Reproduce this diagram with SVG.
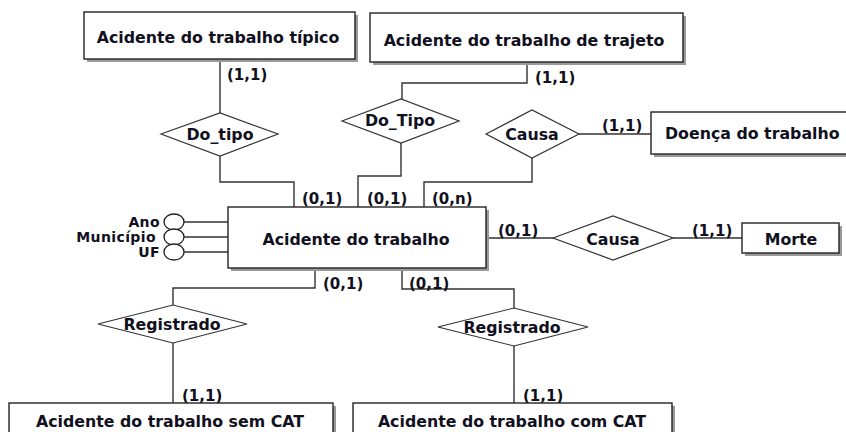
<svg xmlns="http://www.w3.org/2000/svg" width="846" height="432" viewBox="0 0 846 432">
<style>
  .box{fill:#fff;stroke:#222;stroke-width:1.4}
  .sh{fill:#9a9a9a}
  .dia{fill:#fff;stroke:#333;stroke-width:1.2}
  .ln{fill:none;stroke:#333;stroke-width:1.4}
  .t{font-family:"DejaVu Sans",sans-serif;font-weight:bold;font-size:15.8px;fill:#101020;text-anchor:middle;dominant-baseline:central}
  .c{font-family:"DejaVu Sans",sans-serif;font-weight:bold;font-size:15px;fill:#101020}
  .a{font-family:"DejaVu Sans",sans-serif;font-weight:bold;font-size:14px;letter-spacing:0.4px;fill:#101020;text-anchor:end}
  .att{fill:#fff;stroke:#222;stroke-width:1.3}
</style>
<rect width="846" height="432" fill="#fff"/>
<g id="connectors">
  <path class="ln" d="M220,59 V113"/>
  <path class="ln" d="M220,156 V182 H294 V207"/>
  <path class="ln" d="M527,62 V83 H402 V99"/>
  <path class="ln" d="M401,143 V176 H358 V207"/>
  <path class="ln" d="M532,158 V182 H424 V207"/>
  <path class="ln" d="M579,134 H651"/>
  <path class="ln" d="M486,238 H553"/>
  <path class="ln" d="M673,238 H742"/>
  <path class="ln" d="M315,268 V288 H173 V305"/>
  <path class="ln" d="M173,343 V403"/>
  <path class="ln" d="M402,268 V289 H514 V308"/>
  <path class="ln" d="M514,346 V403"/>
  <path class="ln" d="M184,222 H228 M184,237 H228 M184,252 H228"/>
  <text class="c" x="227" y="80">(1,1)</text>
  <text class="c" x="535" y="83">(1,1)</text>
  <text class="c" x="302" y="204">(0,1)</text>
  <text class="c" x="367" y="204">(0,1)</text>
  <text class="c" x="432" y="204">(0,n)</text>
  <text class="c" x="602" y="131">(1,1)</text>
  <text class="c" x="498" y="236">(0,1)</text>
  <text class="c" x="692" y="236">(1,1)</text>
  <text class="c" x="323" y="289">(0,1)</text>
  <text class="c" x="409" y="289">(0,1)</text>
  <text class="c" x="182" y="401">(1,1)</text>
  <text class="c" x="523" y="401">(1,1)</text>
</g>
<g id="e-tipico">
  <rect class="sh" x="87" y="15" width="271" height="47"/>
  <rect class="box" x="84" y="12" width="271" height="47"/>
  <text class="t" x="218" y="37">Acidente do trabalho típico</text>
</g>
<g id="e-trajeto">
  <rect class="sh" x="373" y="16" width="313" height="49"/>
  <rect class="box" x="370" y="13" width="313" height="49"/>
  <text class="t" x="524" y="40">Acidente do trabalho de trajeto</text>
</g>
<g id="e-doenca">
  <rect class="sh" x="654" y="115" width="200" height="42"/>
  <rect class="box" x="651" y="112" width="200" height="42"/>
  <text class="t" x="665" y="133" style="text-anchor:start">Doença do trabalho</text>
</g>
<g id="e-acidente">
  <rect class="sh" x="231" y="210" width="258" height="61"/>
  <rect class="box" x="228" y="207" width="258" height="61"/>
  <text class="t" x="356" y="239">Acidente do trabalho</text>
</g>
<g id="e-morte">
  <rect class="sh" x="745" y="226" width="97" height="30"/>
  <rect class="box" x="742" y="223" width="97" height="30"/>
  <text class="t" x="791" y="239">Morte</text>
</g>
<g id="e-semcat">
  <rect class="sh" x="12" y="406" width="324" height="40"/>
  <rect class="box" x="9" y="403" width="324" height="40"/>
  <text class="t" x="170" y="421">Acidente do trabalho sem CAT</text>
</g>
<g id="e-comcat">
  <rect class="sh" x="356" y="406" width="319" height="40"/>
  <rect class="box" x="353" y="403" width="319" height="40"/>
  <text class="t" x="512" y="421">Acidente do trabalho com CAT</text>
</g>
<g id="r-do-tipo">
  <polygon class="dia" points="161,134 220,113 278,134 220,156"/>
  <text class="t" x="220" y="134">Do_tipo</text>
</g>
<g id="r-do-tipo2">
  <polygon class="dia" points="342,121 401,99 459,121 401,143"/>
  <text class="t" x="400" y="120">Do_Tipo</text>
</g>
<g id="r-causa1">
  <polygon class="dia" points="486,134 532,110 579,134 532,158"/>
  <text class="t" x="532" y="134">Causa</text>
</g>
<g id="r-causa2">
  <polygon class="dia" points="553,238 613,216 673,238 613,260"/>
  <text class="t" x="613" y="239">Causa</text>
</g>
<g id="r-registrado1">
  <polygon class="dia" points="98,324 173,305 247,324 173,343"/>
  <text class="t" x="172" y="324">Registrado</text>
</g>
<g id="r-registrado2">
  <polygon class="dia" points="438,327 514,308 588,327 514,346"/>
  <text class="t" x="512" y="327">Registrado</text>
</g>
<g id="attributes">
  <ellipse class="att" cx="174" cy="222" rx="10" ry="8"/>
  <ellipse class="att" cx="174" cy="237" rx="10" ry="8"/>
  <ellipse class="att" cx="174" cy="252" rx="10" ry="8"/>
  <text class="a" x="160" y="227">Ano</text>
  <text class="a" x="156" y="242">Município</text>
  <text class="a" x="160" y="257">UF</text>
</g>
</svg>
